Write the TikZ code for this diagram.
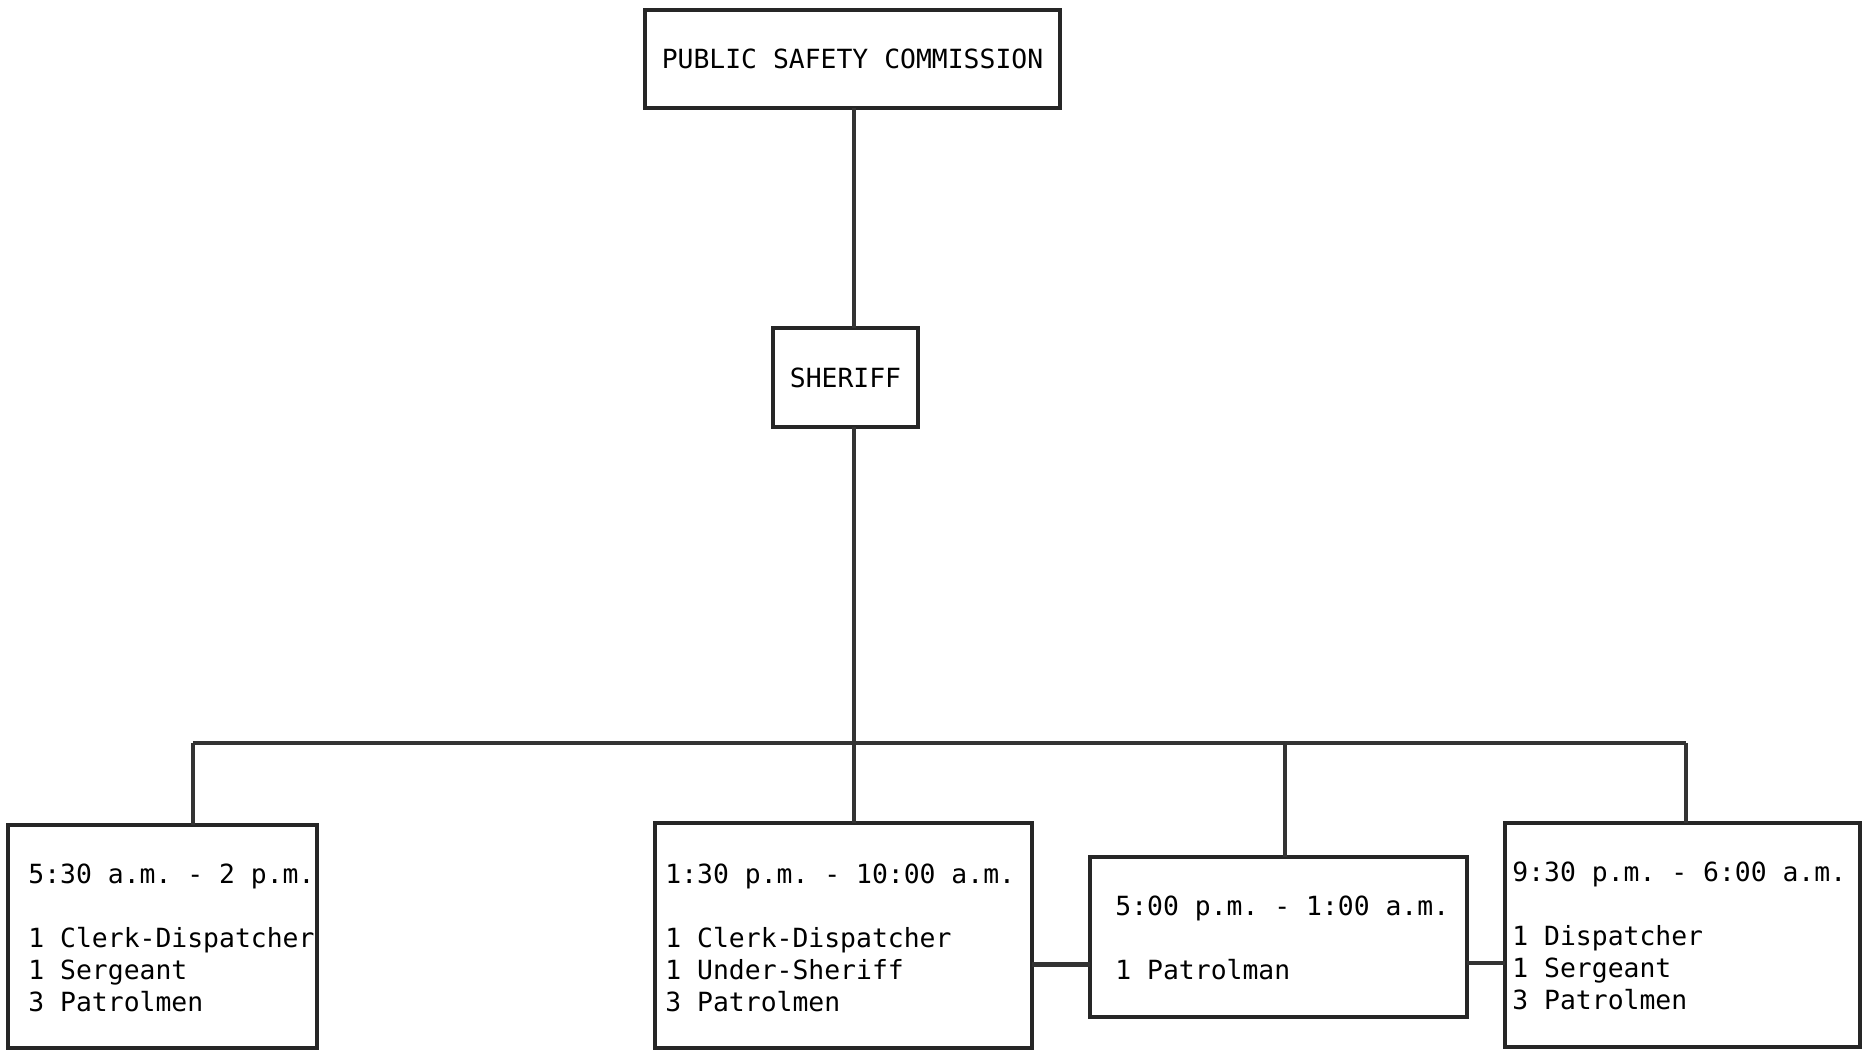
\documentclass[tikz,border=0pt]{standalone}
\usepackage{fontspec}
\newfontfamily\typer{DejaVu Sans Mono}
\usepackage{tikz}
\usetikzlibrary{calc,positioning}
\frenchspacing

\begin{document}
\begin{tikzpicture}[x=0.5pt,y=-0.5pt,
      font=\typer\fontsize{13.2pt}{16pt}\selectfont,
      post/.style={draw=black!85,line width=2.2pt,outer sep=0pt,inner sep=0pt},
      roster/.style={anchor=north west,align=left,inner sep=0pt},
      link/.style={draw=black!80,line width=2.1pt}]
    \useasboundingbox (0,0) rectangle (1874,1055);
    % top of the chart
    \node[post,minimum width=207.5pt,minimum height=49pt] (psc) at (852.5,59) {PUBLIC SAFETY COMMISSION};
    \node[post,minimum width=72.5pt,minimum height=49.5pt] (sheriff) at (845.5,377.5) {SHERIFF};
    % shift boxes
    \node[post,minimum width=154.5pt,minimum height=111.5pt] (early) at (162.5,936.5) {};
    \node[post,minimum width=188.5pt,minimum height=112.5pt] (day) at (843.5,935.5) {};
    \node[post,minimum width=188.5pt,minimum height=80pt] (eve) at (1278.5,937) {};
    \node[post,minimum width=177.5pt,minimum height=112pt] (night) at (1682.5,935) {};
    \node[roster] (earlytxt) at ([shift={(20,38)}]early.north west)
      {5:30 a.m. - 2 p.m.\\[16pt]1 Clerk-Dispatcher\\1 Sergeant\\3 Patrolmen};
    \node[roster] (daytxt) at ([shift={(10,40)}]day.north west)
      {1:30 p.m. - 10:00 a.m.\\[16pt]1 Clerk-Dispatcher\\1 Under-Sheriff\\3 Patrolmen};
    \node[roster] (evetxt) at ([shift={(25,38)}]eve.north west)
      {5:00 p.m. - 1:00 a.m.\\[16pt]1 Patrolman};
    \node[roster] (nighttxt) at ([shift={(7,38)}]night.north west)
      {9:30 p.m. - 6:00 a.m.\\[16pt]1 Dispatcher\\1 Sergeant\\3 Patrolmen};
    % bus line
    \coordinate (hub) at (854,743);
    \coordinate (b1) at (193,743);
    \coordinate (b3) at (1285,743);
    \coordinate (b4) at (1686,743);
    \draw[link] (hub |- psc.south) -- (hub |- sheriff.north);
    \draw[link] (hub |- sheriff.south) -- (hub);
    \draw[link] (b1) -- (b4);
    \draw[link] (b1) -- (b1 |- early.north);
    \draw[link] (hub) -- (hub |- day.north);
    \draw[link] (b3) -- (b3 |- eve.north);
    \draw[link] (b4) -- (b4 |- night.north);
    % side links
    \coordinate (dl) at ([shift={(0,29)}]day.east);
    \coordinate (el) at ([shift={(0,26)}]eve.east);
    \draw[link] (dl) -- (dl -| eve.west);
    \draw[link] (el) -- (el -| night.west);
  \end{tikzpicture}
\end{document}
